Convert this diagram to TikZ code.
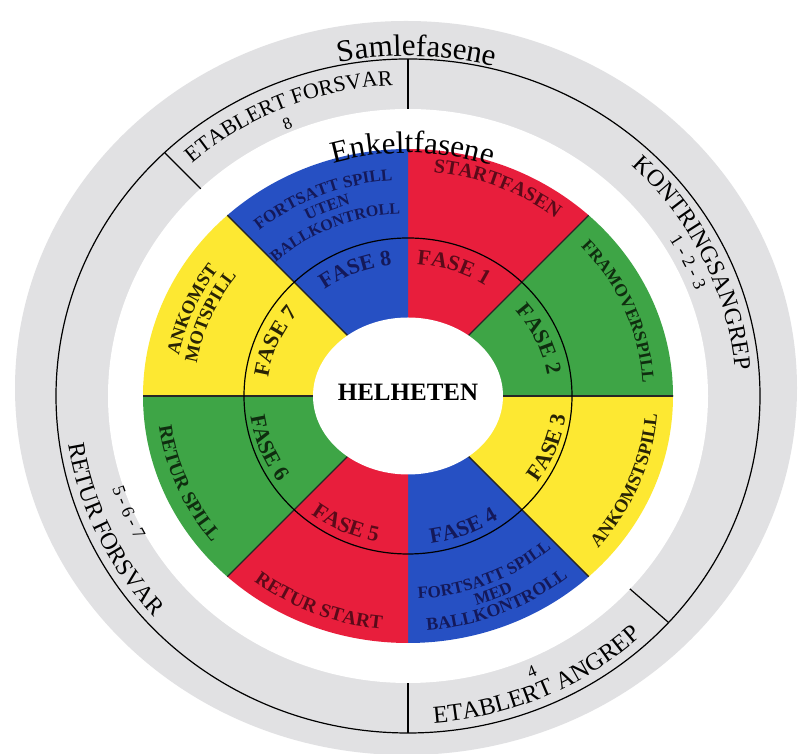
\documentclass[tikz,border=0pt]{standalone}
\usepackage{fontspec}
\setmainfont{Liberation Serif}
\usetikzlibrary{calc,decorations.text}
\definecolor{cR}{RGB}{232,30,60}
\definecolor{cB}{RGB}{38,80,195}
\definecolor{cG}{RGB}{62,165,70}
\definecolor{cY}{RGB}{253,232,50}
\definecolor{cGray}{RGB}{225,225,227}
\definecolor{tR}{RGB}{90,10,25}
\definecolor{tB}{RGB}{20,25,90}
\definecolor{tG}{RGB}{15,45,15}
\definecolor{tY}{RGB}{40,35,5}
\newcommand\fb[1]{\fontsize{#1pt}{#1pt}\selectfont\bfseries}
\newcommand\fr[1]{\fontsize{#1pt}{#1pt}\selectfont}
% #1 start angle, #2 end angle, #3 x radius, #4 y radius, #5 format, #6 text
\newcommand\arctxt[6]{\path[decorate,decoration={text along path,text align=center,text={|#5|#6}}] ($(C)+(#1:#3 and #4)$) arc[start angle=#1,end angle=#2,x radius=#3pt,y radius=#4pt];}
\tikzset{
  ringline/.style={line width=1.2pt,black},
  secline/.style={line width=1.4pt,black!85},
}
\begin{document}
\begin{tikzpicture}[x=1pt,y=1pt]
\useasboundingbox (0,0) rectangle (798,754);
\fill[white] (0,0) rectangle (798,754);
\coordinate (C) at (408,358);
\coordinate (G) at (406,366);
% outer grey ring
\fill[cGray] (G) ellipse[x radius=391pt,y radius=367pt];
\fill[white] (C) ellipse[x radius=300pt,y radius=287pt];
\draw[ringline] (C) ellipse[x radius=352pt,y radius=337pt];
% dividers in grey ring
\draw[ringline] ($(C)+(0,337)$) -- ($(C)+(0,287)$);
\draw[ringline] ($(C)+(0,-337)$) -- ($(C)+(0,-287)$);
\draw[ringline] ($(C)+(135:344)$) -- ($(C)+(135:293)$);
\draw[ringline] ($(C)+(-41:345)$) -- ($(C)+(-41:294)$);
% coloured disc
\begin{scope}
\clip (C) ellipse[x radius=265pt,y radius=247pt];
\fill[cR] (C) -- ($(C)+(45:420)$) -- ($(C)+(67.5:420)$) -- ($(C)+(90:420)$) -- cycle;
\fill[cG] (C) -- ($(C)+(0:420)$) -- ($(C)+(22.5:420)$) -- ($(C)+(45:420)$) -- cycle;
\fill[cY] (C) -- ($(C)+(-45:420)$) -- ($(C)+(-22.5:420)$) -- ($(C)+(0:420)$) -- cycle;
\fill[cB] (C) -- ($(C)+(-90:420)$) -- ($(C)+(-67.5:420)$) -- ($(C)+(-45:420)$) -- cycle;
\fill[cR] (C) -- ($(C)+(-135:420)$) -- ($(C)+(-112.5:420)$) -- ($(C)+(-90:420)$) -- cycle;
\fill[cG] (C) -- ($(C)+(180:420)$) -- ($(C)+(202.5:420)$) -- ($(C)+(225:420)$) -- cycle;
\fill[cY] (C) -- ($(C)+(135:420)$) -- ($(C)+(157.5:420)$) -- ($(C)+(180:420)$) -- cycle;
\fill[cB] (C) -- ($(C)+(90:420)$) -- ($(C)+(112.5:420)$) -- ($(C)+(135:420)$) -- cycle;
\foreach \a in {0,45,135,180,225,315}
  \draw[secline] (C) -- ($(C)+(\a:420)$);
\end{scope}
\draw[ringline] (C) ellipse[x radius=164pt,y radius=158pt];
\fill[white] (C) ellipse[x radius=95pt,y radius=78.5pt];
\node[font=\fb{25}] (hel) at ($(C)+(0,4)$) {HELHETEN};
% titles
\arctxt{133.6}{43.6}{355}{340}{\fr{31}}{Samlefasene}
\arctxt{134}{44}{260}{243}{\fr{31}}{Enkeltfasene}
% grey ring labels
\arctxt{157.5}{67.5}{325}{311}{\fr{22}}{ETABLERT FORSVAR}
\arctxt{70.5}{-19.5}{328}{314}{\fr{24}}{KONTRINGSANGREP}
\arctxt{71}{-19}{308}{295}{\fr{18}}{1 - 2 - 3}
\arctxt{-111}{-21}{343}{328}{\fr{24.5}}{ETABLERT ANGREP}
\arctxt{160}{250}{343}{328}{\fr{24}}{RETUR FORSVAR}
\arctxt{158}{248}{311}{298}{\fr{18}}{5 - 6 - 7}
\node[font=\fr{17},rotate=23] (n8) at ($(C)+(113:309 and 296)$) {8};
\node[font=\fr{17},rotate=23.3] (n4) at ($(C)+(-66.7:313 and 300)$) {4};
% sector labels
\arctxt{112.5}{22.5}{241}{225}{\fb{20}\color{tR}}{STARTFASEN}
\arctxt{67.5}{-22.5}{235}{220}{\fb{17.5}\color{tG}}{FRAMOVERSPILL}
\arctxt{-67}{23}{250}{234}{\fb{18.5}\color{tY}}{ANKOMSTSPILL}
\arctxt{-112.5}{-22.5}{251}{235}{\fb{18}\color{tB}}{BALLKONTROLL}
\arctxt{-112.5}{-22.5}{234}{219}{\fb{17}\color{tB}}{MED}
\arctxt{-112.5}{-22.5}{217}{203}{\fb{17}\color{tB}}{FORTSATT SPILL}
\arctxt{-157.5}{-67.5}{251}{234.5}{\fb{19.5}\color{tR}}{RETUR START}
\arctxt{-202.5}{-112.5}{251}{234.5}{\fb{19.5}\color{tG}}{RETUR SPILL}
\arctxt{202.5}{112.5}{233}{218}{\fb{18.5}\color{tY}}{ANKOMST}
\arctxt{202.5}{112.5}{214}{200}{\fb{18.5}\color{tY}}{MOTSPILL}
\arctxt{157.5}{67.5}{231}{216}{\fb{17}\color{tB}}{FORTSATT SPILL}
\arctxt{157.5}{67.5}{213}{199}{\fb{16.5}\color{tB}}{UTEN}
\arctxt{158}{68}{195}{182}{\fb{16}\color{tB}}{BALLKONTROLL}
% fase labels
\arctxt{116}{26}{141}{132}{\fb{22}\color{tR}}{FASE 1}
\arctxt{69}{-21}{141}{132}{\fb{22}\color{tG}}{FASE 2}
\arctxt{-66}{24}{159}{149}{\fb{22}\color{tY}}{FASE 3}
\arctxt{-113}{-23}{159}{149}{\fb{22}\color{tB}}{FASE 4}
\arctxt{-160}{-70}{159}{149}{\fb{22}\color{tR}}{FASE 5}
\arctxt{-204}{-114}{159}{149}{\fb{22}\color{tG}}{FASE 6}
\arctxt{202}{112}{141}{132}{\fb{22}\color{tY}}{FASE 7}
\arctxt{157}{67}{141}{132}{\fb{22}\color{tB}}{FASE 8}
\end{tikzpicture}
\end{document}
